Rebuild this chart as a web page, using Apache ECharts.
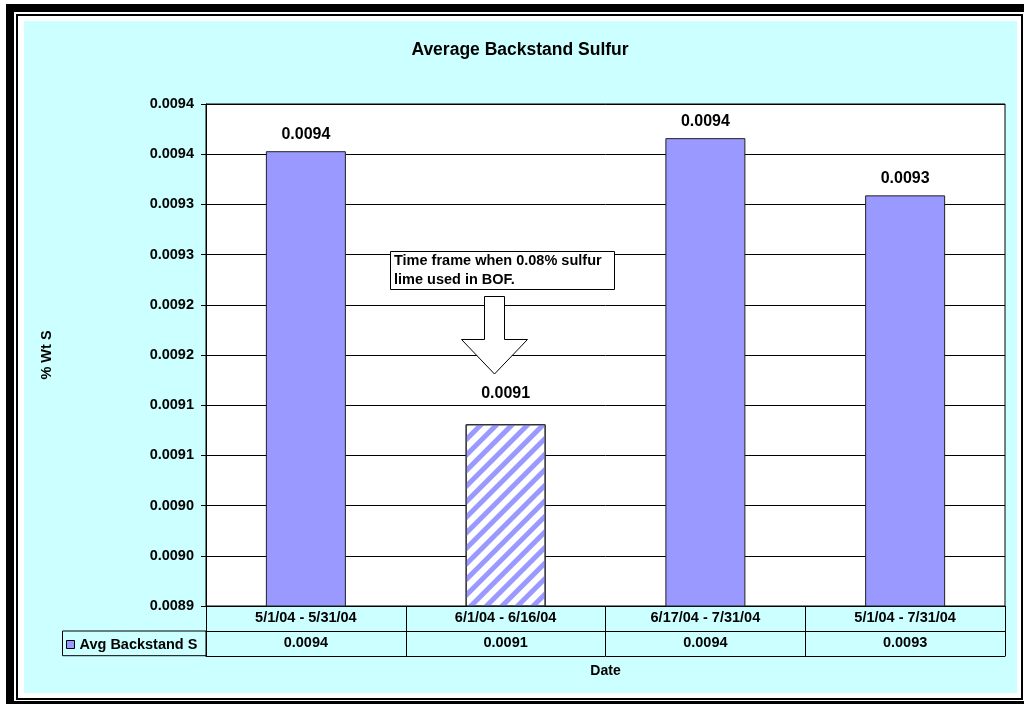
<!DOCTYPE html>
<html>
<head>
<meta charset="utf-8">
<script src="https://cdn.jsdelivr.net/npm/echarts@6/dist/echarts.min.js"></script>
<style>
  html, body { margin: 0; padding: 0; background: #fff; }
  #chart { width: 1024px; height: 704px; }
</style>
</head>
<body>
<div id="chart"></div>
<script>
// Sampling periods and the average backstand sulfur (% wt) for each
const categories = ['5/1/04 - 5/31/04', '6/1/04 - 6/16/04', '6/17/04 - 7/31/04', '5/1/04 - 7/31/04'];
const avgBackstandS = [0.009353, 0.009081, 0.009366, 0.009309];
// Period when the 0.08% sulfur lime was used in the BOF (drawn hatched)
const limeTrialPeriod = [false, true, false, false];
// Value axis
const yMin = 0.0089;
const yMax = 0.0094;
const yStep = 0.00005;
const yTickLabels = ['0.0089', '0.0090', '0.0090', '0.0091', '0.0091', '0.0092',
                     '0.0092', '0.0093', '0.0093', '0.0094', '0.0094'];

const FONT = "'Liberation Sans', Arial, sans-serif";
const BAR_BLUE = '#9999FF';
const fmt = v => v.toFixed(4);
const bold = (size) => ({ fontFamily: FONT, fontWeight: 'bold', fontSize: size, color: '#000' });

const seriesData = avgBackstandS.map((v, i) => limeTrialPeriod[i]
  ? {
      value: v,
      itemStyle: {
        color: '#fff',
        decal: {
          symbol: 'rect', symbolSize: 1,
          dashArrayX: [1, 0], dashArrayY: [5, 6],
          rotation: -Math.PI / 4, color: BAR_BLUE
        }
      },
      label: { distance: 23 }
    }
  : v);

const chart = echarts.init(document.getElementById('chart'), null, { renderer: 'canvas' });

chart.setOption({
  backgroundColor: '#fff',
  animation: false,
  title: {
    text: 'Average Backstand Sulfur',
    left: 520, top: 41, textAlign: 'center', padding: 0,
    textStyle: bold(17.5)
  },
  legend: {
    data: ['Avg Backstand S'],
    left: 66, top: 637, padding: 0,
    icon: 'rect', itemWidth: 8, itemHeight: 8,
    itemStyle: { color: BAR_BLUE, borderColor: '#000', borderWidth: 1, decal: 'none' },
    textStyle: bold(14.5)
  },
  grid: {
    left: 206, right: 19, top: 104, bottom: 98,
    show: true, backgroundColor: '#fff', borderColor: '#000', borderWidth: 1
  },
  xAxis: [
    {
      type: 'category', data: categories, position: 'bottom',
      axisLine: { show: true, lineStyle: { color: '#000', width: 1 } },
      axisTick: { show: true, length: 50, interval: 0, alignWithLabel: false, lineStyle: { color: '#000' } },
      axisLabel: Object.assign({ margin: 4, interval: 0 }, bold(14.5)),
      splitLine: { show: false }
    },
    {
      type: 'category', data: avgBackstandS.map(fmt), position: 'bottom', offset: 25,
      axisLine: { show: true, lineStyle: { color: '#000', width: 1 } },
      axisTick: { show: false },
      axisLabel: Object.assign({ margin: 4, interval: 0 }, bold(14.5)),
      splitLine: { show: false }
    },
    {
      type: 'category', data: categories, position: 'bottom', offset: 50,
      axisLine: { show: true, lineStyle: { color: '#000', width: 1 } },
      axisTick: { show: false },
      axisLabel: { show: false },
      splitLine: { show: false },
      name: 'Date', nameLocation: 'middle', nameGap: 8,
      nameTextStyle: bold(14)
    }
  ],
  yAxis: {
    type: 'value', min: yMin, max: yMax, interval: yStep,
    axisLine: { show: true, lineStyle: { color: '#000', width: 1 } },
    axisTick: { show: true, length: 5, lineStyle: { color: '#000' } },
    axisLabel: Object.assign({ margin: 12, formatter: (v, i) => yTickLabels[i] }, bold(14.5)),
    splitLine: { show: true, lineStyle: { color: '#000', width: 1 } },
    name: '% Wt S', nameLocation: 'middle', nameGap: 152, nameRotate: 90,
    nameTextStyle: bold(14.5)
  },
  series: [{
    name: 'Avg Backstand S',
    type: 'bar',
    xAxisIndex: 0,
    data: seriesData,
    barWidth: 80,
    itemStyle: { color: BAR_BLUE, borderColor: '#222', borderWidth: 1 },
    label: {
      show: true, position: 'top', distance: 9,
      formatter: p => fmt(p.value),
      ...bold(16)
    }
  }],
  graphic: [
    // page frame and cyan chart area
    { type: 'rect', z: -100, shape: { x: 24, y: 21, width: 993, height: 672 }, style: { fill: '#CCFFFF' } },
    { type: 'rect', z: -100, shape: { x: 17, y: 15, width: 1005, height: 684 }, style: { fill: null, stroke: '#000', lineWidth: 2 } },
    { type: 'rect', z: -100, shape: { x: 6, y: 4, width: 1018, height: 8 }, style: { fill: '#000' } },
    { type: 'rect', z: -100, shape: { x: 6, y: 4, width: 8, height: 700 }, style: { fill: '#000' } },
    { type: 'rect', z: -100, shape: { x: 6, y: 701, width: 1018, height: 3 }, style: { fill: '#000' } },
    // legend cell of the data table
    { type: 'rect', z: 10, shape: { x: 62.5, y: 631, width: 143.5, height: 24.7 }, style: { fill: null, stroke: '#000', lineWidth: 1 } },
    // annotation box and arrow
    { type: 'rect', z: 100, shape: { x: 390.5, y: 251.5, width: 224, height: 38 }, style: { fill: '#fff', stroke: '#000', lineWidth: 1 } },
    { type: 'text', z: 101, x: 394, y: 261, style: { text: 'Time frame when 0.08% sulfur', font: 'bold 14.5px ' + FONT, fill: '#000', verticalAlign: 'middle' } },
    { type: 'text', z: 101, x: 394, y: 280, style: { text: 'lime used in BOF.', font: 'bold 14.5px ' + FONT, fill: '#000', verticalAlign: 'middle' } },
    { type: 'polygon', z: 100, shape: { points: [[484.5, 296.5], [504.5, 296.5], [504.5, 339.5], [527.5, 339.5], [494.5, 374], [461.5, 339.5], [484.5, 339.5]] },
      style: { fill: '#fff', stroke: '#000', lineWidth: 1 } }
  ]
});
</script>
</body>
</html>
